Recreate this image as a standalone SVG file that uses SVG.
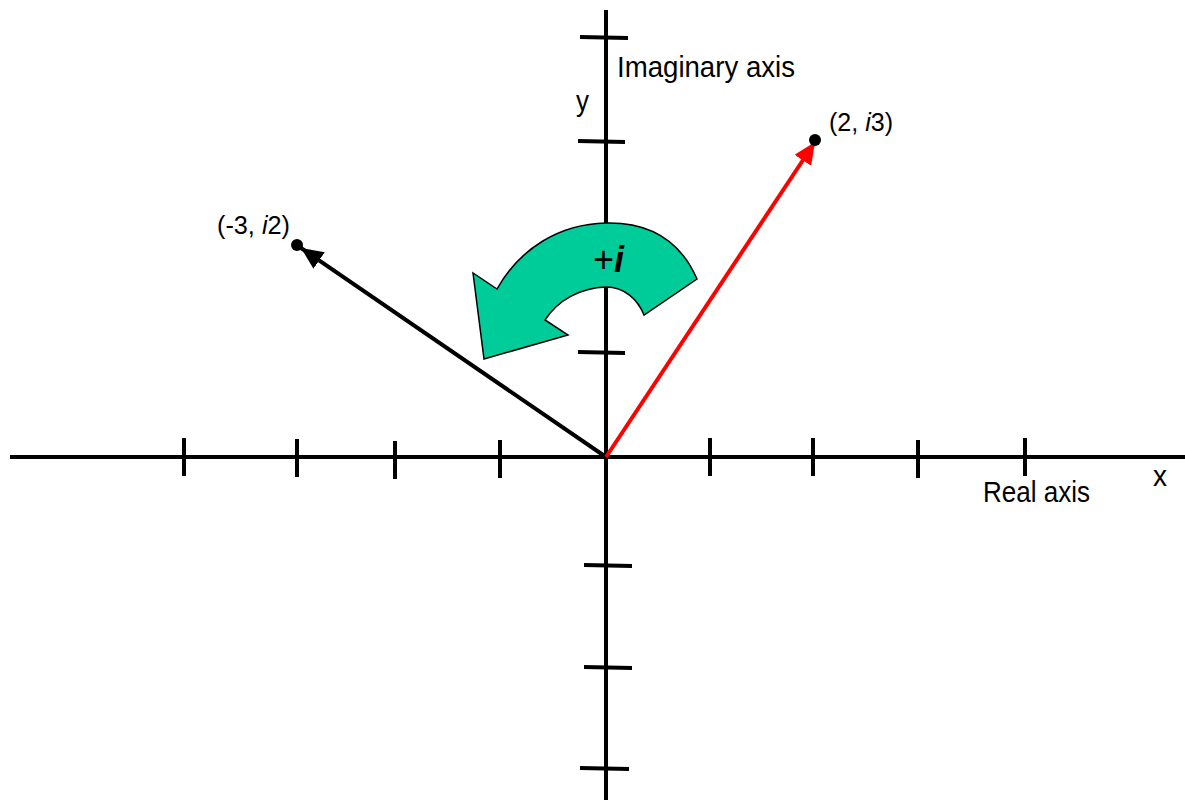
<svg xmlns="http://www.w3.org/2000/svg" width="1185" height="801" viewBox="0 0 1185 801">
<style>
.ax{stroke:#000;stroke-width:4;fill:none}
.tk{stroke:#000;stroke-width:4}
.lbl{font-family:"Liberation Sans Narrow","Liberation Sans",Arial,sans-serif;font-size:29px;fill:#000}
.pt{font-size:26px}
</style>
<defs>
<marker id="ahB" markerUnits="userSpaceOnUse" markerWidth="24" markerHeight="22" refX="22" refY="10" orient="auto">
<path d="M0,0 L22,10 L0,20 z" fill="#000"/>
</marker>
<marker id="ahR" markerUnits="userSpaceOnUse" markerWidth="24" markerHeight="22" refX="22" refY="10" orient="auto">
<path d="M0,0 L22,10 L0,20 z" fill="#f00"/>
</marker>
</defs>
<rect width="1185" height="801" fill="#fff"/>
<g id="axes">
<line class="ax" x1="10" y1="457" x2="1185" y2="457"/>
<line class="ax" x1="606" y1="10" x2="606" y2="800"/>
<g id="xticks">
<line class="tk" x1="184" y1="438" x2="184" y2="476"/>
<line class="tk" x1="297" y1="439" x2="297" y2="477"/>
<line class="tk" x1="395" y1="441" x2="395" y2="479"/>
<line class="tk" x1="500" y1="440" x2="500" y2="478"/>
<line class="tk" x1="710" y1="438" x2="710" y2="476"/>
<line class="tk" x1="813" y1="438" x2="813" y2="476"/>
<line class="tk" x1="918" y1="440" x2="918" y2="478"/>
<line class="tk" x1="1025" y1="438" x2="1025" y2="476"/>
</g>
<g id="yticks">
<line class="tk" x1="580" y1="37" x2="628" y2="38"/>
<line class="tk" x1="578" y1="141" x2="625" y2="142"/>
<line class="tk" x1="580" y1="247" x2="628" y2="248"/>
<line class="tk" x1="578" y1="352" x2="625" y2="353"/>
<line class="tk" x1="584" y1="565" x2="632" y2="566"/>
<line class="tk" x1="584" y1="667" x2="632" y2="668"/>
<line class="tk" x1="580" y1="768" x2="629" y2="769"/>
</g>
</g>
<g id="connectors">
<line x1="606" y1="457" x2="301" y2="248" stroke="#000" stroke-width="4" marker-end="url(#ahB)"/>
<line x1="606" y1="457" x2="815" y2="142" stroke="#f00" stroke-width="4" marker-end="url(#ahR)"/>
</g>
<g id="rotation">
<path d="M697,279 C680,240 650,222 606,223 C560,224 520,248 497,289 L473,273 L484,359 L568,335 L545,320 C558,300 580,288 606,287 C625,287 638,300 644,315 Z" fill="#00cc99" stroke="#000" stroke-width="1.5" stroke-linejoin="miter"/>
<text x="593" y="272" font-family="Liberation Sans,Arial,sans-serif" font-size="36" fill="#000">+<tspan font-style="italic" font-weight="bold">i</tspan></text>
</g>
<g id="point-a">
<circle cx="297" cy="245" r="6" fill="#000"/>
<text class="lbl pt" x="217" y="234" textLength="73" lengthAdjust="spacingAndGlyphs">(-3, <tspan font-style="italic">i</tspan>2)</text>
</g>
<g id="point-b">
<circle cx="815" cy="140" r="6" fill="#000"/>
<text class="lbl pt" x="829" y="131" textLength="64" lengthAdjust="spacingAndGlyphs">(2, <tspan font-style="italic">i</tspan>3)</text>
</g>
<g id="labels">
<text class="lbl" x="617" y="77" textLength="178" lengthAdjust="spacingAndGlyphs">Imaginary axis</text>
<text class="lbl" x="576" y="111" textLength="13" lengthAdjust="spacingAndGlyphs">y</text>
<text class="lbl" x="983" y="502" textLength="107" lengthAdjust="spacingAndGlyphs">Real axis</text>
<text class="lbl" x="1153" y="486" textLength="14" lengthAdjust="spacingAndGlyphs">x</text>
</g>
</svg>
